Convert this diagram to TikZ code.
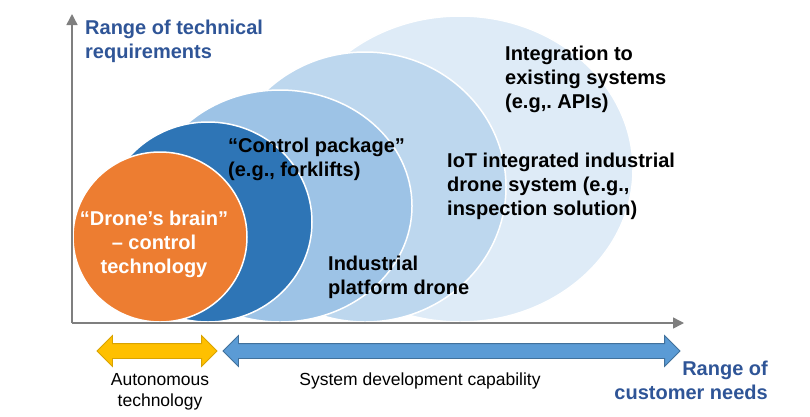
\documentclass[tikz,border=0pt]{standalone}
\usepackage{fontspec}
\setmainfont{Liberation Sans}
\usetikzlibrary{shapes.geometric,shapes.arrows,arrows.meta}

\definecolor{brainorange}{HTML}{ED7D31}
\definecolor{packageblue}{HTML}{2E75B6}
\definecolor{platformblue}{HTML}{9DC3E6}
\definecolor{iotblue}{HTML}{BDD7EE}
\definecolor{integrationblue}{HTML}{DEEBF7}
\definecolor{titleblue}{HTML}{2F5597}
\definecolor{axisgray}{HTML}{7F7F7F}
\definecolor{autoyellow}{HTML}{FFC000}
\definecolor{autoborder}{HTML}{D9A300}
\definecolor{sysblue}{HTML}{5B9BD5}
\definecolor{sysborder}{HTML}{41719C}

\tikzset{
    blob/.style={ellipse, draw=white, line width=1.5pt, inner sep=0pt},
    boldtext/.style={font=\bfseries\fontsize{20}{24}\selectfont, inner sep=0pt, align=left},
    plaintext/.style={font=\fontsize{17.5}{21}\selectfont, inner sep=0pt, align=center},
    axis/.style={draw=axisgray, line width=1.5pt, -{Triangle[length=11pt,width=11pt]}},
    blockarrow/.style={double arrow, double arrow head extend=8pt, inner sep=7pt, line width=0.8pt}
}

\begin{document}
\begin{tikzpicture}[x=1pt,y=-1pt]
            \useasboundingbox (0,0) rectangle (810,416);

            % Nodes
            \node[blob, fill=integrationblue, minimum width=346pt, minimum height=306pt] (integration) at (460,169) {};
            \node[blob, fill=iotblue, minimum width=282pt, minimum height=270pt] (iot_system) at (365,187) {};
            \node[blob, fill=platformblue, minimum width=264pt, minimum height=232pt] (platform_drone) at (280,206) {};
            \node[blob, fill=packageblue, minimum width=208pt, minimum height=200pt] (control_package) at (208,222) {};
            \node[blob, fill=brainorange, minimum width=174pt, minimum height=170pt] (drone_brain) at (160,237) {};

            % last-line baselines
            \node[boldtext, anchor=base west] (integration_text) at (505,108) {Integration to\\existing systems\\(e.g,.\ APIs)};
            \node[boldtext, anchor=base west] (iot_text) at (447,215) {IoT integrated industrial\\drone system (e.g.,\\inspection solution)};
            \node[boldtext, anchor=base west] (platform_text) at (328,294) {Industrial\\platform drone};
            \node[boldtext, anchor=base west] (package_text) at (228,176) {“Control package”\\(e.g., forklifts)};
            \node[boldtext, anchor=base, align=center, text=white] (brain_text) at (154,273) {“Drone’s brain”\\– control\\technology};

            \node[boldtext, anchor=base west, text=titleblue] (tech_label) at (85,58) {Range of technical\\requirements};
            \node[boldtext, anchor=base east, align=right, text=titleblue] (needs_label) at (768,399) {Range of\\customer needs};

            \coordinate (origin) at (72,323);
            \coordinate (y_end) at (72,14);
            \coordinate (x_end) at (684,323);

            \node[blockarrow, fill=autoyellow, draw=autoborder, minimum height=120pt] (auto_arrow) at (157,351) {};
            \node[blockarrow, fill=sysblue, draw=sysborder, minimum height=457pt] (sys_arrow) at (451.5,351) {};

            \node[plaintext, anchor=base] (auto_text) at (160,406) {Autonomous\\technology};
            \node[plaintext, anchor=base] (sys_text) at (420,385) {System development capability};

            % Arrows
            \draw[axis] (origin) -- (y_end);
            \draw[axis] (origin) -- (x_end);
\end{tikzpicture}
\end{document}
